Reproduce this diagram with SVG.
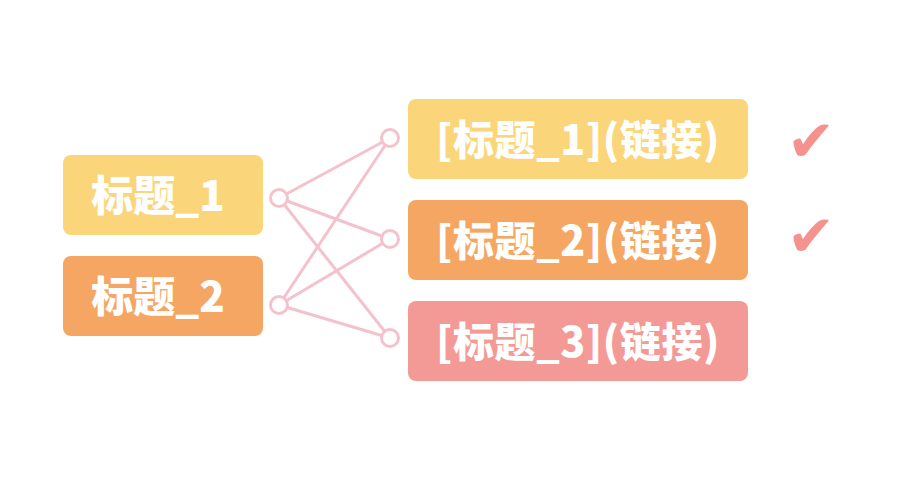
<svg xmlns="http://www.w3.org/2000/svg" width="900" height="480" viewBox="0 0 900 480">
<style>
.t{font-family:"Noto Sans CJK SC","Noto Sans",sans-serif;font-weight:900;fill:#fff;text-anchor:middle}
.l{font-size:42px}
.r{font-size:41px;letter-spacing:0.6px}
.c{fill:#fff;stroke:#F4C2CC;stroke-width:3}
.e{stroke:#F4C2CC;stroke-width:3;fill:none}
.k{font-family:"DejaVu Sans",sans-serif;font-size:58px;fill:#F4928E;text-anchor:middle}
</style>
<rect width="900" height="480" fill="#fff"/>
<g id="connectors">
<line class="e" x1="279" y1="198" x2="390" y2="138"/>
<line class="e" x1="279" y1="198" x2="390" y2="239"/>
<line class="e" x1="279" y1="198" x2="390" y2="338"/>
<line class="e" x1="279" y1="305" x2="390" y2="138"/>
<line class="e" x1="279" y1="305" x2="390" y2="239"/>
<line class="e" x1="279" y1="305" x2="390" y2="338"/>
<circle class="c" cx="279" cy="198" r="8.5"/>
<circle class="c" cx="279" cy="305" r="8.5"/>
<circle class="c" cx="390" cy="138" r="8.5"/>
<circle class="c" cx="390" cy="239" r="8.5"/>
<circle class="c" cx="390" cy="338" r="8.5"/>
</g>
<g id="left1"><rect x="63" y="155" width="200" height="80" rx="8" fill="#FBD57A"/><text class="t l" x="158" y="211">标题_1</text></g>
<g id="left2"><rect x="63" y="256" width="200" height="80" rx="8" fill="#F6A663"/><text class="t l" x="158" y="312">标题_2</text></g>
<g id="right1"><rect x="408" y="99" width="340" height="80" rx="8" fill="#FBD57A"/><text class="t r" x="578" y="155">[标题_1](链接)</text></g>
<g id="right2"><rect x="408" y="200" width="340" height="80" rx="8" fill="#F6A663"/><text class="t r" x="578" y="256">[标题_2](链接)</text></g>
<g id="right3"><rect x="408" y="301" width="340" height="80" rx="8" fill="#F49A96"/><text class="t r" x="578" y="357">[标题_3](链接)</text></g>
<g id="check1"><text class="k" x="811" y="161">✔</text></g>
<g id="check2"><text class="k" x="811" y="256">✔</text></g>
</svg>
